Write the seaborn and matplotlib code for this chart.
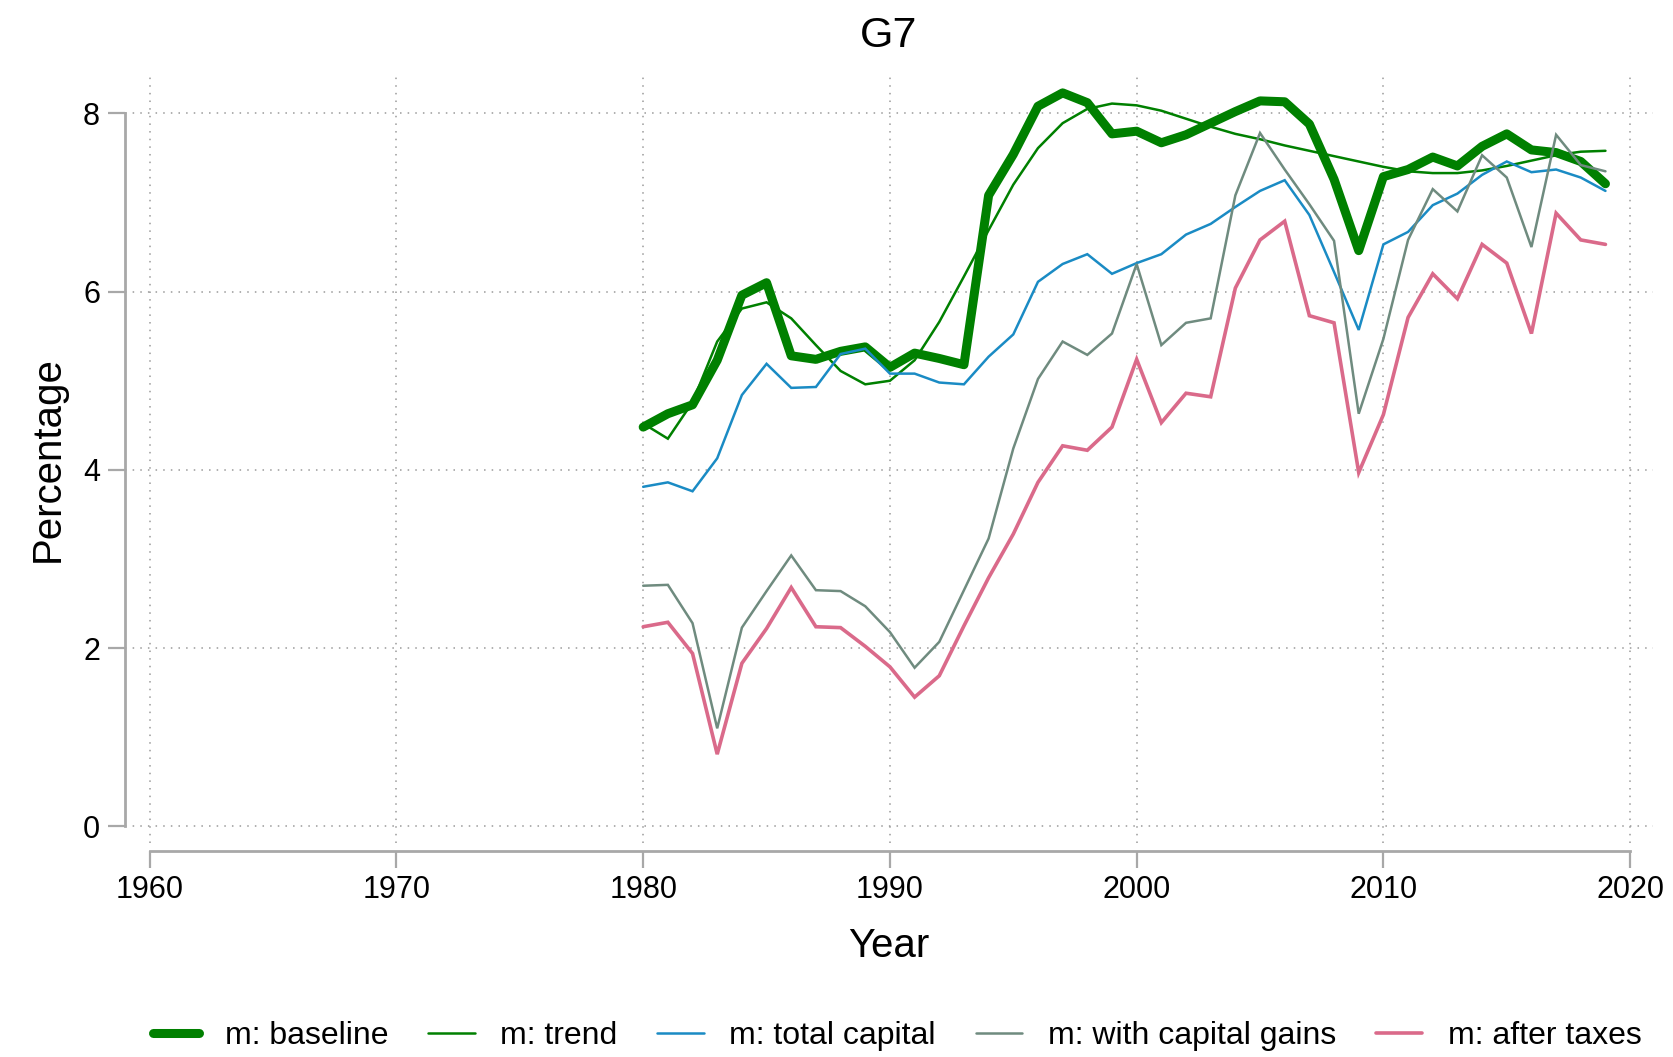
import matplotlib
matplotlib.use("Agg")
import matplotlib.pyplot as plt
import seaborn as sns
import pandas as pd

years = list(range(1980, 2020))

baseline = [4.48, 4.63, 4.73, 5.23, 5.96, 6.10, 5.28, 5.24, 5.33, 5.38,
            5.15, 5.31, 5.25, 5.18, 7.08, 7.54, 8.08, 8.23, 8.12, 7.77,
            7.80, 7.67, 7.76, 7.89, 8.02, 8.14, 8.13, 7.88, 7.26, 6.46,
            7.29, 7.37, 7.51, 7.41, 7.63, 7.77, 7.59, 7.56, 7.46, 7.21]

trend = [4.52, 4.35, 4.76, 5.44, 5.81, 5.88, 5.70, 5.40, 5.11, 4.96,
         5.00, 5.23, 5.66, 6.17, 6.69, 7.20, 7.61, 7.89, 8.05, 8.11,
         8.09, 8.03, 7.94, 7.85, 7.77, 7.71, 7.64, 7.58, 7.52, 7.46,
         7.40, 7.35, 7.33, 7.33, 7.36, 7.41, 7.47, 7.53, 7.57, 7.58]

total_capital = [3.81, 3.86, 3.76, 4.13, 4.84, 5.19, 4.92, 4.93, 5.30, 5.36,
                 5.08, 5.08, 4.98, 4.96, 5.27, 5.52, 6.11, 6.31, 6.42, 6.20,
                 6.32, 6.42, 6.64, 6.76, 6.95, 7.13, 7.25, 6.86, 6.22, 5.57,
                 6.53, 6.67, 6.97, 7.10, 7.31, 7.46, 7.34, 7.37, 7.28, 7.13]

with_gains = [2.70, 2.71, 2.28, 1.10, 2.23, 2.64, 3.04, 2.65, 2.64, 2.47,
              2.18, 1.78, 2.07, 2.65, 3.23, 4.24, 5.02, 5.44, 5.29, 5.53,
              6.31, 5.40, 5.65, 5.70, 7.08, 7.78, 7.37, 6.98, 6.57, 4.63,
              5.47, 6.58, 7.15, 6.90, 7.53, 7.28, 6.50, 7.76, 7.42, 7.35]

after_taxes = [2.24, 2.29, 1.94, 0.81, 1.83, 2.22, 2.68, 2.24, 2.23, 2.02,
               1.79, 1.45, 1.69, 2.25, 2.79, 3.28, 3.86, 4.27, 4.22, 4.48,
               5.24, 4.53, 4.86, 4.82, 6.04, 6.58, 6.79, 5.73, 5.65, 3.97,
               4.62, 5.71, 6.20, 5.92, 6.53, 6.32, 5.53, 6.88, 6.58, 6.53]

labels = ["m: baseline", "m: trend", "m: total capital",
          "m: with capital gains", "m: after taxes"]
colors = ["#008000", "#008000", "#1a8bc4", "#6f8b7f", "#da6a8a"]
widths = [6.5, 1.8, 1.8, 1.8, 2.6]
xticks = [1960, 1970, 1980, 1990, 2000, 2010, 2020]
yticks = [0, 2, 4, 6, 8]

sns.set_style("white")
plt.rcParams['font.family'] = ['Liberation Sans', 'DejaVu Sans']
plt.rcParams['text.color'] = 'black'
plt.rcParams['axes.labelcolor'] = 'black'
plt.rcParams['xtick.color'] = 'black'
plt.rcParams['ytick.color'] = 'black'

fig = plt.figure(figsize=(16.74, 10.57), dpi=100)
ax = fig.add_axes([0.0747, 0.2025, 0.9128, 0.7265])

# spine placement first (set_position resets tick properties)
for s in ["top", "right"]:
    ax.spines[s].set_visible(False)
ax.spines["bottom"].set_position(("outward", 6))

series = [baseline, trend, total_capital, with_gains, after_taxes]
order = [3, 4, 2, 0, 1]
for i in order:
    df = pd.DataFrame({"Year": years, "v": series[i]})
    sns.lineplot(data=df, x="Year", y="v", ax=ax, color=colors[i],
                 linewidth=widths[i], label=labels[i], zorder=3 + i,
                 solid_joinstyle="miter" if i != 0 else "round")

ax.set_xlim(1959.0, 2020.93)
ax.set_ylim(-0.186, 8.43)
ax.set_xticks(xticks)
ax.set_yticks(yticks)
ax.set_xticklabels([str(t) for t in xticks])
ax.set_yticklabels([str(t) for t in yticks])

ax.grid(True, color="#9a9a9a", linestyle=(0, (1, 4)), linewidth=1.1)

for s in ["left", "bottom"]:
    ax.spines[s].set_color("#a8a8a8")
    ax.spines[s].set_linewidth(2)
ax.spines["left"].set_bounds(0, 8)
ax.spines["bottom"].set_bounds(1960, 2020)
ax.tick_params(axis="both", which="major", length=12, width=1.6,
               color="#a8a8a8", labelcolor="black", direction="out",
               labelsize=22, bottom=True, left=True)
ax.tick_params(axis="x", pad=5)
ax.tick_params(axis="y", pad=6)

ax.set_xlabel("Year", fontsize=29, labelpad=16)
ax.set_ylabel("Percentage", fontsize=29, labelpad=12)
ax.set_title("G7", fontsize=31, pad=20, color="black")

handles, labs = ax.get_legend_handles_labels()
hmap = dict(zip(labs, handles))
ax.legend([hmap[l] for l in labels], labels, loc="center",
          bbox_to_anchor=(0.536, 0.020), bbox_transform=fig.transFigure,
          ncol=5, frameon=False, fontsize=23, handlelength=1.45,
          columnspacing=1.25, handletextpad=0.8)

fig.savefig("out.png", dpi=100)
